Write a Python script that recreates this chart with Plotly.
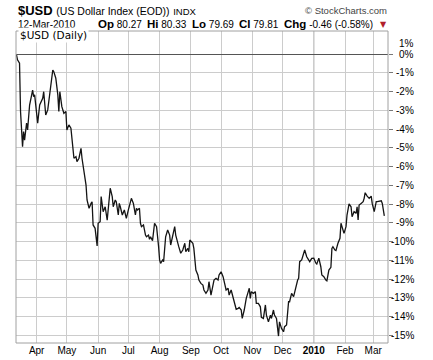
import plotly.graph_objects as go

# ---------------- data ----------------
dates = [
    "2009-03-12", "2009-03-13", "2009-03-15", "2009-03-16", "2009-03-18", "2009-03-19", "2009-03-20",
    "2009-03-22", "2009-03-23", "2009-03-25", "2009-03-28", "2009-03-29", "2009-03-30",
    "2009-04-01", "2009-04-02", "2009-04-04", "2009-04-07", "2009-04-08", "2009-04-10", "2009-04-12",
    "2009-04-13", "2009-04-15", "2009-04-17", "2009-04-18", "2009-04-20", "2009-04-22", "2009-04-23",
    "2009-04-24", "2009-04-26", "2009-04-28", "2009-04-30",
    "2009-05-01", "2009-05-03", "2009-05-05", "2009-05-06", "2009-05-08", "2009-05-10", "2009-05-11",
    "2009-05-13", "2009-05-15", "2009-05-16", "2009-05-18", "2009-05-20", "2009-05-21", "2009-05-23",
    "2009-05-25", "2009-05-26", "2009-05-27", "2009-05-29", "2009-05-31",
    "2009-06-01", "2009-06-03", "2009-06-04", "2009-06-06", "2009-06-08", "2009-06-10", "2009-06-11",
    "2009-06-13", "2009-06-15", "2009-06-16", "2009-06-18", "2009-06-19", "2009-06-21", "2009-06-22",
    "2009-06-23", "2009-06-25", "2009-06-27", "2009-06-29",
    "2009-07-01", "2009-07-03", "2009-07-04", "2009-07-06", "2009-07-08", "2009-07-09", "2009-07-10",
    "2009-07-12", "2009-07-13", "2009-07-14", "2009-07-16", "2009-07-18", "2009-07-19", "2009-07-21",
    "2009-07-22", "2009-07-23", "2009-07-25", "2009-07-27", "2009-07-29", "2009-07-31",
    "2009-08-01", "2009-08-02", "2009-08-04", "2009-08-05", "2009-08-07", "2009-08-09", "2009-08-11",
    "2009-08-12", "2009-08-14", "2009-08-16", "2009-08-17", "2009-08-19", "2009-08-20", "2009-08-22",
    "2009-08-24", "2009-08-26", "2009-08-27", "2009-08-29", "2009-08-30", "2009-08-31",
    "2009-09-03", "2009-09-04", "2009-09-06", "2009-09-08", "2009-09-09", "2009-09-11", "2009-09-13",
    "2009-09-14", "2009-09-16", "2009-09-18", "2009-09-19", "2009-09-21", "2009-09-23", "2009-09-24",
    "2009-09-26", "2009-09-28", "2009-09-29",
    "2009-10-01", "2009-10-03", "2009-10-04", "2009-10-06", "2009-10-08", "2009-10-09", "2009-10-11",
    "2009-10-13", "2009-10-14", "2009-10-16", "2009-10-18", "2009-10-19", "2009-10-21", "2009-10-22",
    "2009-10-24", "2009-10-26", "2009-10-28", "2009-10-29", "2009-10-30", "2009-10-31",
    "2009-11-02", "2009-11-04", "2009-11-05", "2009-11-07", "2009-11-09", "2009-11-10", "2009-11-12",
    "2009-11-14", "2009-11-15", "2009-11-17", "2009-11-19", "2009-11-20", "2009-11-22", "2009-11-23",
    "2009-11-25", "2009-11-27", "2009-11-28", "2009-11-30",
    "2009-12-02", "2009-12-03", "2009-12-05", "2009-12-07", "2009-12-08", "2009-12-10", "2009-12-12",
    "2009-12-13", "2009-12-14", "2009-12-16", "2009-12-17", "2009-12-18", "2009-12-20", "2009-12-22",
    "2009-12-23", "2009-12-25", "2009-12-27", "2009-12-28", "2009-12-30",
    "2010-01-01", "2010-01-03", "2010-01-04", "2010-01-06", "2010-01-08", "2010-01-09", "2010-01-11",
    "2010-01-13", "2010-01-14", "2010-01-16", "2010-01-18", "2010-01-19", "2010-01-20", "2010-01-22",
    "2010-01-23", "2010-01-25", "2010-01-27", "2010-01-28", "2010-01-29", "2010-01-31",
    "2010-02-02", "2010-02-03", "2010-02-05", "2010-02-07", "2010-02-08", "2010-02-10", "2010-02-12",
    "2010-02-13", "2010-02-14", "2010-02-15", "2010-02-17", "2010-02-19", "2010-02-20", "2010-02-21",
    "2010-02-23", "2010-02-25", "2010-02-27", "2010-02-28",
    "2010-03-02", "2010-03-04", "2010-03-05", "2010-03-07", "2010-03-09", "2010-03-10", "2010-03-11",
    "2010-03-12",
]

pct_change = [
    -0.04, -0.30, -0.48, -3.06, -4.93, -4.13, -4.58,
    -3.67, -4.04, -2.71, -1.91, -2.26, -2.17,
    -3.42, -3.68, -2.71, -2.35, -2.00, -3.24, -2.97,
    -2.53, -1.82, -0.84, -0.93, -1.28, -2.17, -3.06,
    -2.00, -2.80, -3.15, -3.06,
    -4.04, -3.77, -3.95, -4.58, -5.55, -5.47, -5.73,
    -5.55, -5.02, -5.55, -6.27, -6.98, -7.78, -8.22,
    -7.96, -7.87, -9.11, -9.29, -10.23,
    -9.02, -8.94, -7.60, -8.40, -8.14, -8.85, -8.14,
    -7.15, -7.60, -8.14, -7.78, -7.87, -8.58, -7.96,
    -8.14, -8.58, -8.31, -8.76,
    -8.31, -7.87, -7.69, -7.96, -8.58, -8.22, -8.31,
    -8.22, -9.02, -9.20, -9.11, -9.65, -9.74, -9.65,
    -9.88, -9.74, -9.95, -9.02, -9.20, -10.27,
    -10.98, -11.16, -10.98, -11.07, -9.74, -9.38, -9.65,
    -10.18, -9.74, -9.20, -9.65, -10.18, -10.27, -10.62,
    -10.45, -10.09, -10.54, -10.36, -10.54, -9.91,
    -10.09, -10.36, -11.52, -11.78, -12.05, -12.23, -12.32,
    -12.58, -12.76, -12.58, -12.14, -12.85, -12.32, -12.05,
    -11.96, -12.05, -11.78,
    -11.61, -11.87, -12.14, -12.58, -12.49, -12.85, -12.58,
    -13.03, -13.30, -13.61, -13.56, -13.51, -13.65, -14.10,
    -13.65, -13.03, -12.67, -12.49, -13.03, -12.67,
    -12.76, -12.67, -13.30, -13.30, -13.48, -14.04, -14.10,
    -13.38, -13.92, -14.28, -13.92, -14.10, -13.65, -13.92,
    -14.10, -15.04, -14.28, -14.63,
    -14.81, -14.54, -14.45, -13.21, -13.21, -12.76, -12.94,
    -12.67, -12.49, -12.05, -11.96, -11.07, -10.98, -10.62,
    -10.45, -10.81, -10.98, -11.07, -10.89,
    -10.88, -11.14, -11.20, -10.88, -11.34, -11.78, -11.87,
    -12.05, -12.09, -11.52, -11.37, -10.36, -10.27, -10.45,
    -10.48, -10.09, -9.82, -9.02, -9.20, -9.56,
    -9.20, -8.58, -7.99, -8.14, -8.67, -8.40, -8.49,
    -8.14, -8.85, -8.05, -7.96, -7.87, -7.69, -7.39,
    -7.57, -7.69, -7.57, -7.96,
    -8.40, -7.87, -7.87, -7.83, -7.82, -7.96, -8.22,
    -8.63,
]

month_ticks = ["2009-04-01", "2009-05-01", "2009-06-01", "2009-07-01", "2009-08-01", "2009-09-01",
               "2009-10-01", "2009-11-01", "2009-12-01", "2010-01-01", "2010-02-01", "2010-03-01"]
month_labels = ["Apr", "May", "Jun", "Jul", "Aug", "Sep", "Oct", "Nov", "Dec", "<b>2010</b>", "Feb", "Mar"]

y_ticks = list(range(-15, 1))
y_labels = [f"{v}%" for v in y_ticks]

# ---------------- geometry ----------------
W, H = 433, 360
L, R, T, B = 16, 45, 31, 17
PW, PH = W - L - R, H - T - B
y_range = [-15.41, 1.24]
x_range = ["2009-03-11 12:00", "2010-03-15 16:00"]
LABEL_RIGHT = 415.5  # right edge of the value labels (pixels)
GRID = "#cccccc"


def px(x):
    return (x - L) / PW


def py(y):
    return (H - B - y) / PH


fig = go.Figure()
fig.add_trace(go.Scatter(x=dates, y=pct_change, mode="lines",
                         line=dict(color="#141414", width=1.3),
                         hoverinfo="skip", showlegend=False))

AX = "Arial, Liberation Sans, sans-serif"

fig.update_layout(
    width=W, height=H,
    margin=dict(l=L, r=R, t=T, b=B, autoexpand=False),
    paper_bgcolor="white", plot_bgcolor="white",
    showlegend=False,
    xaxis=dict(type="date", range=x_range, automargin=False,
               tickvals=month_ticks, ticktext=month_labels,
               tickfont=dict(family=AX, size=10, color="#000"),
               showgrid=True, gridcolor=GRID, gridwidth=1,
               zeroline=False),
    yaxis=dict(range=y_range, side="right", tickvals=y_ticks, showticklabels=False, automargin=False,
               showgrid=True, gridcolor=GRID, gridwidth=1,
               zeroline=True, zerolinecolor="#555555", zerolinewidth=1,
               ticks="outside", ticklen=4, tickcolor="#777"),
)

# darker year-boundary gridline
fig.add_shape(type="line", xref="x", yref="paper", x0="2010-01-01", x1="2010-01-01", y0=0, y1=1,
              line=dict(color="#8c8c8c", width=1), layer="below")
# plot frame
fig.add_shape(type="rect", xref="paper", yref="paper", x0=0, x1=1, y0=0, y1=1,
              line=dict(color="#a0a0a0", width=1), fillcolor="rgba(0,0,0,0)", layer="above")

ann = []
# right-aligned value labels of the right scale
for v, lab in zip(y_ticks, y_labels):
    ann.append(dict(x=px(LABEL_RIGHT), y=v, xref="paper", yref="y", xanchor="right", yanchor="middle",
                    showarrow=False, text=lab, font=dict(family=AX, size=10, color="#000")))
ann.append(dict(x=px(LABEL_RIGHT), y=0.55, xref="paper", yref="y", xanchor="right", yanchor="middle",
                showarrow=False, text="1%", font=dict(family=AX, size=10, color="#000")))

# header line 1
ann.append(dict(x=px(16), y=py(10), xref="paper", yref="paper", xanchor="left", yanchor="middle",
                showarrow=False, align="left",
                text="<b>$USD</b> <span style='font-size:10.5px'>(US Dollar Index (EOD))</span>"
                     " <span style='font-size:9.5px'>INDX</span>",
                font=dict(family=AX, size=13, color="#000")))
ann.append(dict(x=px(389), y=py(10), xref="paper", yref="paper", xanchor="right", yanchor="middle",
                showarrow=False, text="© StockCharts.com",
                font=dict(family=AX, size=9.5, color="#444")))
# header line 2
line2 = [
    (16, "12-Mar-2010"),
    (96, "<b><span style='font-size:11.5px'>Op</span></b> 80.27"),
    (145, "<b><span style='font-size:11.5px'>Hi</span></b> 80.33"),
    (190, "<b><span style='font-size:11.5px'>Lo</span></b> 79.69"),
    (237, "<b><span style='font-size:11.5px'>Cl</span></b> 79.81"),
    (282, "<b><span style='font-size:11.5px'>Chg</span></b> -0.46 (-0.58%)"),
]
for xx, tt in line2:
    ann.append(dict(x=px(xx), y=py(24), xref="paper", yref="paper", xanchor="left", yanchor="middle",
                    showarrow=False, text=tt, font=dict(family=AX, size=10, color="#000")))
ann.append(dict(x=px(378), y=py(24), xref="paper", yref="paper", xanchor="left", yanchor="middle",
                showarrow=False, text="▼", font=dict(family="DejaVu Sans", size=8, color="#b0202a")))
# in-plot label
ann.append(dict(x=px(17.5), y=py(35.5), xref="paper", yref="paper", xanchor="left", yanchor="middle",
                showarrow=False, text="$USD (Daily)", bgcolor="white", borderpad=1,
                font=dict(family="DejaVu Sans", size=10.5, color="#000")))
fig.update_layout(annotations=ann)

fig.write_html("out.html", config={"displayModeBar": False},
               post_script="document.body.style.margin='0px';")
